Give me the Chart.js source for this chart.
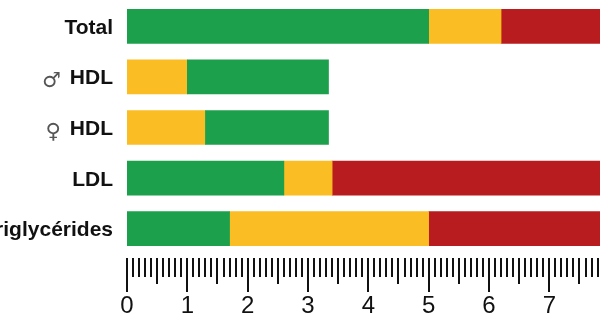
<!DOCTYPE html>
<html>
<head>
<meta charset="utf-8">
<script src="https://cdn.jsdelivr.net/npm/chart.js@4.4.1/dist/chart.umd.min.js"></script>
<style>
  html, body { margin: 0; padding: 0; background: #fff; }
  #wrap { width: 600px; height: 330px; }
</style>
</head>
<body>
<div id="wrap"><canvas id="c" width="600" height="330"></canvas></div>
<script>
const categories = ['Total', '♂ HDL', '♀ HDL', 'LDL', 'Triglycérides'];
const greenRanges  = [[0, 5], [1, 3.34], [1.3, 3.34], [0, 2.6], [0, 1.7]];
const yellowRanges = [[5, 6.2], [0, 1], [0, 1.3], [2.6, 3.4], [1.7, 5]];
const redRanges    = [[6.2, 9], null, null, [3.4, 9], [5, 9]];
const xTickLabels  = ['0', '1', '2', '3', '4', '5', '6', '7'];
const xMin = 0, xMax = 7.84;

const GREEN = '#1ca04c', YELLOW = '#fbbd24', RED = '#b81c1e';
const BOLD_FONT = 'bold 21px "Liberation Sans", Arial, sans-serif';
const SYMBOL_FONT = '21px "DejaVu Sans", sans-serif';

// Ruler-style tick marks on the x scale (major / half / tenth)
const rulerPlugin = {
  id: 'ruler',
  afterDraw(chart) {
    const sx = chart.scales.x;
    const ctx = chart.ctx;
    const top = sx.top + 4;
    ctx.save();
    ctx.strokeStyle = '#111';
    ctx.lineWidth = 2;
    for (let i = 0; i <= Math.floor(xMax * 10 + 1e-6); i++) {
      const v = i / 10;
      const x = Math.round(sx.getPixelForValue(v));
      let len = 19;
      if (i % 10 === 0) len = 34;
      else if (i % 5 === 0) len = 26;
      ctx.beginPath();
      ctx.moveTo(x, top);
      ctx.lineTo(x, top + len);
      ctx.stroke();
    }
    ctx.restore();
  }
};

// Category labels: bold text, with the sex symbol in a thin font
const catLabelPlugin = {
  id: 'catLabels',
  afterDraw(chart) {
    const sy = chart.scales.y;
    const ctx = chart.ctx;
    const right = chart.chartArea.left - 14;
    ctx.save();
    ctx.textAlign = 'right';
    ctx.textBaseline = 'alphabetic';
    categories.forEach((label, i) => {
      const y = sy.getPixelForValue(i) + 7.5;
      const sp = label.indexOf(' ');
      const hasSymbol = sp > 0 && /[\u2640\u2642]/.test(label.slice(0, sp));
      const main = hasSymbol ? label.slice(sp + 1) : label;
      ctx.font = BOLD_FONT;
      ctx.fillStyle = '#111';
      ctx.fillText(main, right, y);
      if (hasSymbol) {
        const w = ctx.measureText(main).width;
        ctx.font = SYMBOL_FONT;
        ctx.fillStyle = '#555';
        ctx.fillText(label.slice(0, sp), right - w - 9, y + 3);
      }
    });
    ctx.restore();
  }
};

new Chart(document.getElementById('c'), {
  type: 'bar',
  data: {
    labels: categories,
    datasets: [
      { label: 'vert', data: greenRanges, backgroundColor: GREEN, grouped: false },
      { label: 'jaune', data: yellowRanges, backgroundColor: YELLOW, grouped: false },
      { label: 'rouge', data: redRanges, backgroundColor: RED, grouped: false }
    ]
  },
  options: {
    indexAxis: 'y',
    responsive: false,
    animation: false,
    layout: { padding: { top: 1, left: 0, right: 0, bottom: 0 } },
    datasets: { bar: { barThickness: 34, borderWidth: 0 } },
    plugins: { legend: { display: false }, tooltip: { enabled: false } },
    scales: {
      y: {
        grid: { display: false, drawTicks: false },
        border: { display: false },
        ticks: { display: false },
        afterFit(scale) { scale.width = 127; scale.paddingTop = 0; scale.paddingBottom = 0; }
      },
      x: {
        min: xMin,
        max: xMax,
        grid: { display: false, drawTicks: false },
        border: { display: false },
        ticks: {
          stepSize: 1,
          includeBounds: false,
          autoSkip: false,
          maxRotation: 0,
          color: '#111',
          padding: 38,
          font: { family: '"Liberation Sans", Arial, sans-serif', size: 24 },
          callback(v) { return Number.isInteger(v) ? xTickLabels[v] : ''; }
        },
        afterFit(scale) { scale.height = 76; scale.paddingLeft = 0; scale.paddingRight = 0; }
      }
    }
  },
  plugins: [rulerPlugin, catLabelPlugin]
});
</script>
</body>
</html>
